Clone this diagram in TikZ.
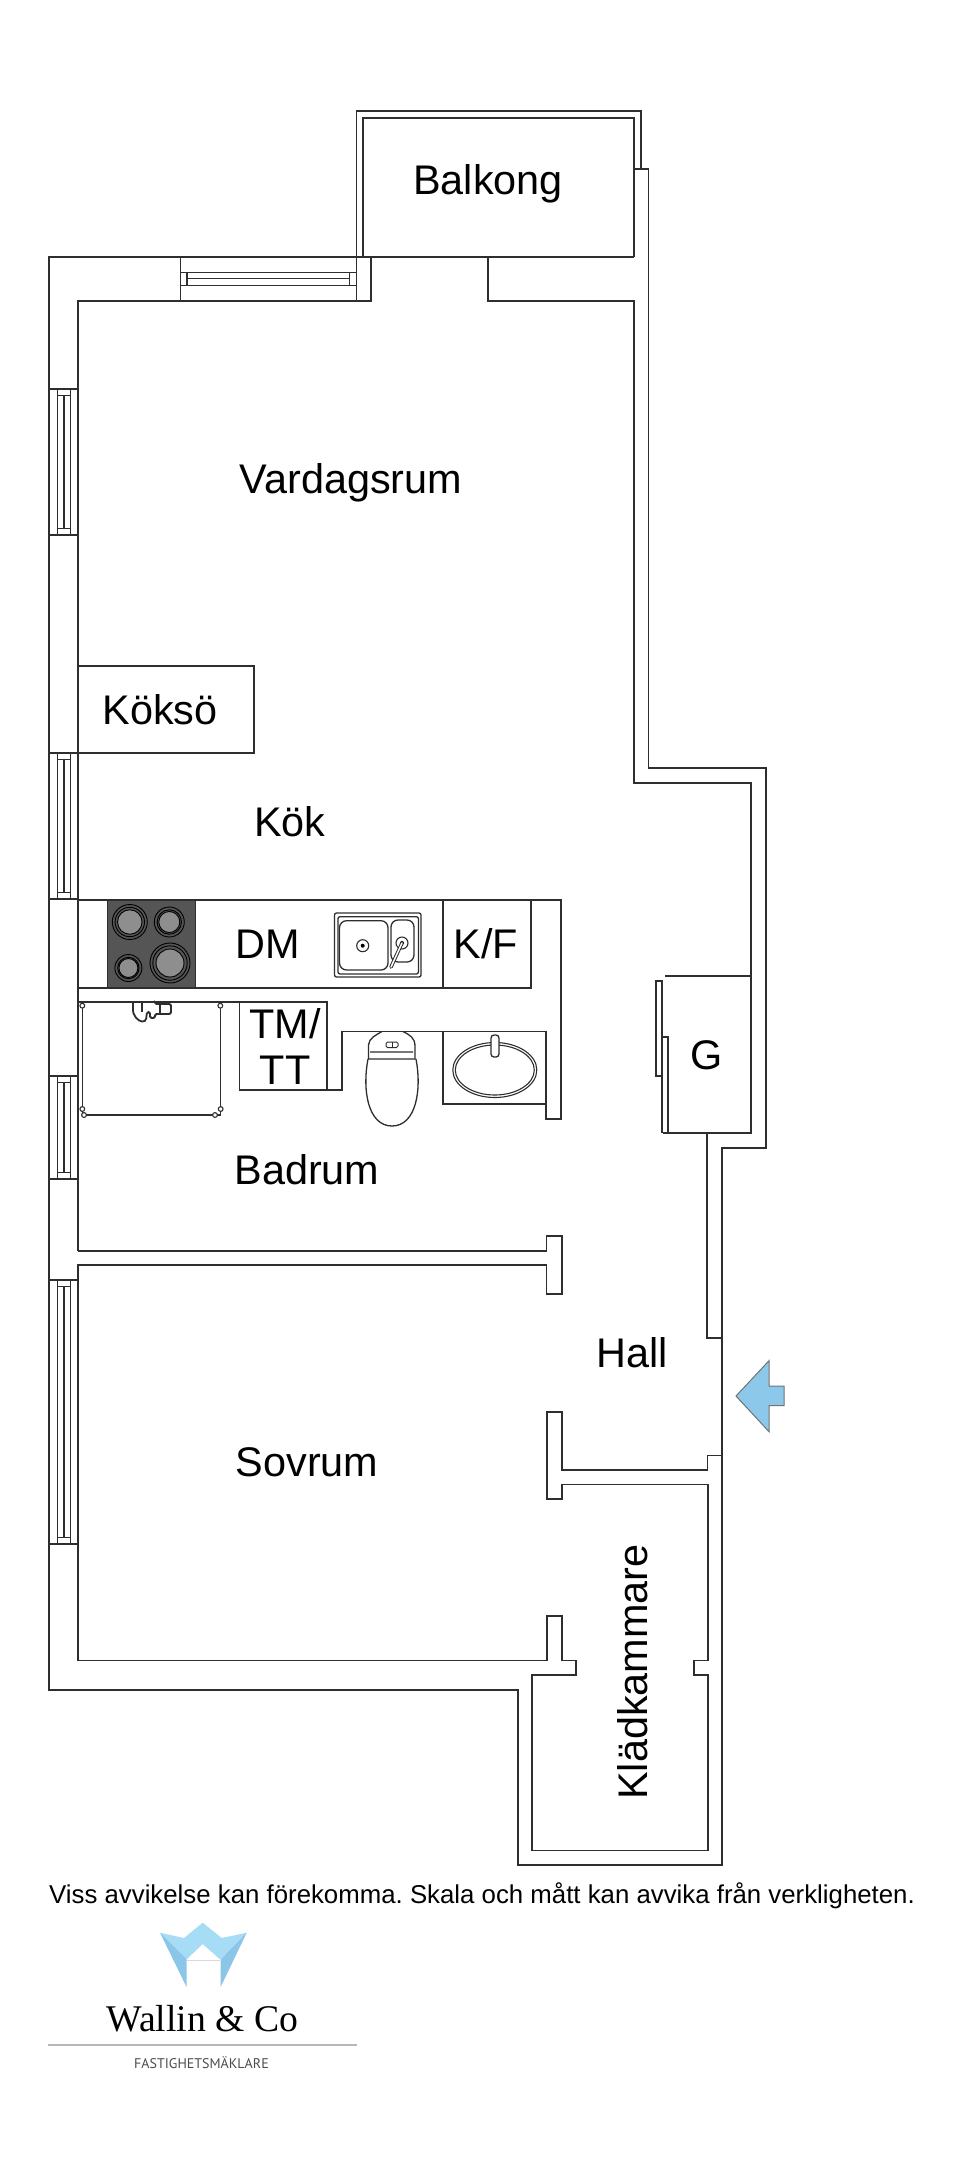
\documentclass[tikz,border=0pt]{standalone}
\usepackage{fontspec}
\setmainfont{Liberation Sans}
\newfontfamily\logofont{Liberation Serif}
\newfontfamily\tradefont{PT Sans}
\definecolor{wallc}{HTML}{2E2E2E}
\definecolor{hobc}{HTML}{555555}
\definecolor{ringc}{HTML}{8E8E8E}
\definecolor{skyc}{HTML}{A6DCF5}
\definecolor{deepc}{HTML}{8BC6E8}
\definecolor{doorc}{HTML}{8CC8EA}

\begin{document}
\begin{tikzpicture}[x=1pt,y=-1pt,line join=miter,
		wall/.style={draw=wallc,line width=1.8pt},
		thin wall/.style={draw=wallc,line width=1.3pt},
		room node/.style={inner sep=0pt,text=black,font=\fontsize{41.4}{46}\selectfont}]
	\useasboundingbox (0,0) rectangle (960,2177);
	%
	% Outer walls.
	\path[wall]
		(356.4,300.7) -- (356.4,110.7) -- (641,110.7) -- (641,169)
		(633.8,169) -- (648.5,169) -- (648.5,768.3) -- (765.7,768.3) -- (765.7,1147.7)
		-- (721.7,1147.7) -- (721.7,1865) -- (517.7,1865) -- (517.7,1689.6) -- (49,1689.6)
		-- (49,257) -- (633.8,257);
	%
	% Balcony and living room.
	\path[wall]
		(363.3,257) -- (363.3,118.3) -- (633.8,118.3) -- (633.8,257)
		(78,1250.6) -- (78,300.7) -- (370.7,300.7) -- (370.7,257)
		(487.8,257) -- (487.8,300.7) -- (634.3,300.7) -- (634.3,782.7)
		-- (751.3,782.7) -- (751.3,1133.3) -- (663.3,1133.3)
		(665.3,976) -- (751.3,976)
		(706.9,1133.3) -- (706.9,1338.3) -- (721.7,1338.3);
	%
	% Kitchen island, counter and bath walls.
	\path[wall]
		(78,665.7) -- (254,665.7) -- (254,753.3) -- (78,753.3)
		(78,900) -- (561,900) -- (561,1119) -- (545.7,1119) -- (545.7,1031.5)
		-- (341.7,1031.5) -- (341.7,1090) -- (239.5,1090) -- (239.5,1002)
		(78,987.7) -- (531,987.7) -- (531,900)
		(443,900) -- (443,987.7)
		(78,1002) -- (327,1002) -- (327,1090)
		(443,1031.5) -- (443,1104.3) -- (545.7,1104.3);
	%
	% Walls round the bedroom and the closet.
	\path[wall]
		(78,1250.6) -- (546.5,1250.6) -- (546.5,1235.7) -- (561.7,1235.7) -- (561.7,1294.3)
		-- (546.5,1294.3) -- (546.5,1265) -- (78,1265) -- (78,1660.5) -- (547,1660.5)
		-- (547,1616) -- (562,1616) -- (562,1660.5) -- (576,1660.5) -- (576,1675)
		-- (531.6,1675) -- (531.6,1850.5) -- (708.3,1850.5) -- (708.3,1675) -- (693.8,1675)
		-- (693.8,1660.5) -- (708.3,1660.5) -- (708.3,1484.5) -- (562,1484.5) -- (562,1499)
		-- (547,1499) -- (547,1411.6) -- (562,1411.6) -- (562,1469.8) -- (707.5,1469.8)
		-- (707.5,1455.5) -- (721.7,1455.5);
	%
	% Windows in the left wall.
	\foreach \ya/\yb in {389/535,753/899,1076/1179,1280/1544} {
		\path[thin wall]
			(49,\ya) rectangle (78,\yb)
			(57.5,\ya) rectangle (70.7,\yb)
			(57.5,\ya+6.5) -- (70.7,\ya+6.5)
			(57.5,\yb-6.5) -- (70.7,\yb-6.5)
			(64,\ya+6.5) -- (64,\yb-6.5);
	}
	%
	% Window in the top wall.
	\path[thin wall]
		(180.6,257) rectangle (356.4,300.7)
		(180.6,272.3) rectangle (356.4,285.7)
		(187,272.3) -- (187,285.7)
		(349.5,272.3) -- (349.5,285.7)
		(187,278.7) -- (349.5,278.7);
	%
	% Cupboard doors.
	\path[wall]
		(656,980.7) rectangle (661.7,1076)
		(661.7,1133.3) -- (661.7,1036.7) -- (667.7,1036.7) -- (667.7,1133.3);
	%
	% Hob.
	\fill[hobc,draw=wallc,line width=1pt] (107.8,900) rectangle (195.5,987.7);
	\foreach \cx/\cy/\cr in {129.8/922/17.5,169.3/922/15,128.4/968/13.5,170/963/20} {
		\draw[black,line width=0.9pt,fill=hobc] (\cx,\cy) circle (\cr);
		\draw[black,line width=0.9pt] (\cx,\cy) circle (\cr-2.8);
		\draw[black,line width=0.9pt,fill=ringc] (\cx,\cy) circle (\cr*0.7);
	}
	%
	% Sink.
	\path[thin wall,rounded corners=2pt]
		(334.5,913) rectangle (421,977)
		(338,916.7) rectangle (418.4,974);
	\path[thin wall,rounded corners=7pt]
		(339.5,920.7) rectangle (388,970)
		(391,920) rectangle (414,962);
	\draw[wallc,line width=1.1pt] (362.7,945.7) circle (6);
	\fill[black] (362.7,945.7) circle (2);
	\draw[wallc,line width=1.1pt] (402,943) circle (6);
	\fill[black] (402,943) circle (2);
	\draw[wallc,line width=3.5pt,line cap=round] (402,943) -- (391,967);
	\draw[white,line width=1.5pt,line cap=round] (402,943) -- (391,967);
	%
	% Shower.
	\path[thin wall] (82.7,1005) -- (82.7,1115) -- (220.3,1115) -- (220.3,1005);
	\foreach \cx/\cy in {82.3/1005.7,220.3/1005.7,82.3/1109,220.7/1109,84/1115,215/1115} {
		\draw[wallc,line width=1.1pt,fill=white] (\cx,\cy) circle (2.4);
	}
	\path[wall,fill=white,rounded corners=1.5pt]
		(133,1003) -- (133,1012) .. controls (136,1020) and (142,1023) .. (146,1020)
		-- (147,1012) -- (150,1012) -- (150,1018) -- (155,1018) -- (155,1014)
		-- (171,1014) -- (171,1004) -- (155,1004) -- (155,1003);
	\path[thin wall] (142,1003) -- (142,1012) (160,1004) -- (160,1014);
	%
	% Toilet.
	\path[thin wall]
		(368.5,1052) -- (368.5,1045) .. controls (369,1038) and (376,1035) .. (382,1031.5)
		(403,1031.5) .. controls (410,1035) and (415,1038) .. (415,1046) -- (415,1052)
		(370,1052) -- (413,1052)
		(368.5,1052) -- (368.5,1059) -- (415,1059) -- (415,1052)
		(368,1059) .. controls (362,1090) and (368,1126) .. (392,1126)
		.. controls (416,1126) and (422,1090) .. (416,1059);
	\draw[wallc,line width=1pt,rounded corners=1.5pt] (386,1042) rectangle (398,1047.5);
	\draw[wallc,line width=1pt] (392,1042) -- (392,1047.5);
	%
	% Wash basin.
	\draw[wallc,line width=1.1pt] (494.8,1070) ellipse (42 and 27.5);
	\draw[wallc,line width=1.1pt] (494.8,1070) ellipse (39.5 and 25);
	\path[thin wall,fill=white,rounded corners=3pt] (491,1035) rectangle (499,1057);
	%
	% Entrance arrow.
	\filldraw[fill=doorc,draw=black!55,line width=1pt]
		(736,1396) -- (769,1360.7) -- (769,1386) -- (784,1386)
		-- (784,1405.7) -- (769,1405.7) -- (769,1431.7) -- cycle;
	%
	% Logo.
	\fill[skyc] (160,1932.7) -- (184,1938) -- (202.7,1922.7) -- (221.7,1938)
		-- (246.7,1932.7) -- (220,1959.3) -- (202.7,1944) -- (186.7,1959.3) -- cycle;
	\fill[deepc] (160,1932.7) -- (186.7,1959.3) -- (186.7,1987.3) -- cycle;
	\fill[deepc] (246.7,1932.7) -- (220.5,1959.3) -- (220.5,1987.3) -- cycle;
	\draw[black!15,line width=0.6pt] (187,1960) -- (220,1960);
	\draw[black!28,line width=1.4pt] (48.3,2045) -- (357.3,2045);
	%
	% Room labels.
	\node[room node] (balkong) at (488,184) {Balkong};
	\node[room node] (vardagsrum) at (351,483) {Vardagsrum};
	\node[room node] (koekso) at (160,710) {Köksö};
	\node[room node] (koek) at (290,822) {Kök};
	\node[room node] (dm) at (268,944) {DM};
	\node[room node] (kf) at (486,944) {K/F};
	\node[room node,align=center] (tmtt) at (285,1046) {TM/\\TT};
	\node[room node] (g) at (707,1055) {G};
	\node[room node] (badrum) at (307,1170) {Badrum};
	\node[room node] (hall) at (632,1353) {Hall};
	\node[room node] (sovrum) at (307,1462) {Sovrum};
	\node[room node,rotate=90] (klad) at (633,1672) {Klädkammare};
	%
	% Caption and logo text.
	\node[inner sep=0pt,anchor=west,font=\fontsize{25.8}{30}\selectfont\frenchspacing] (note) at (49,1896)
		{Viss avvikelse kan förekomma. Skala och mått kan avvika från verkligheten.};
	\node[inner sep=0pt,font=\logofont\fontsize{37.7}{40}\selectfont] (firm) at (202.3,2019) {Wallin \& Co};
	\node[inner sep=0pt,text=black!70,font=\tradefont\fontsize{14}{15}\selectfont] (trade) at (201.5,2063) {FASTIGHETSMÄKLARE};
\end{tikzpicture}
\end{document}
